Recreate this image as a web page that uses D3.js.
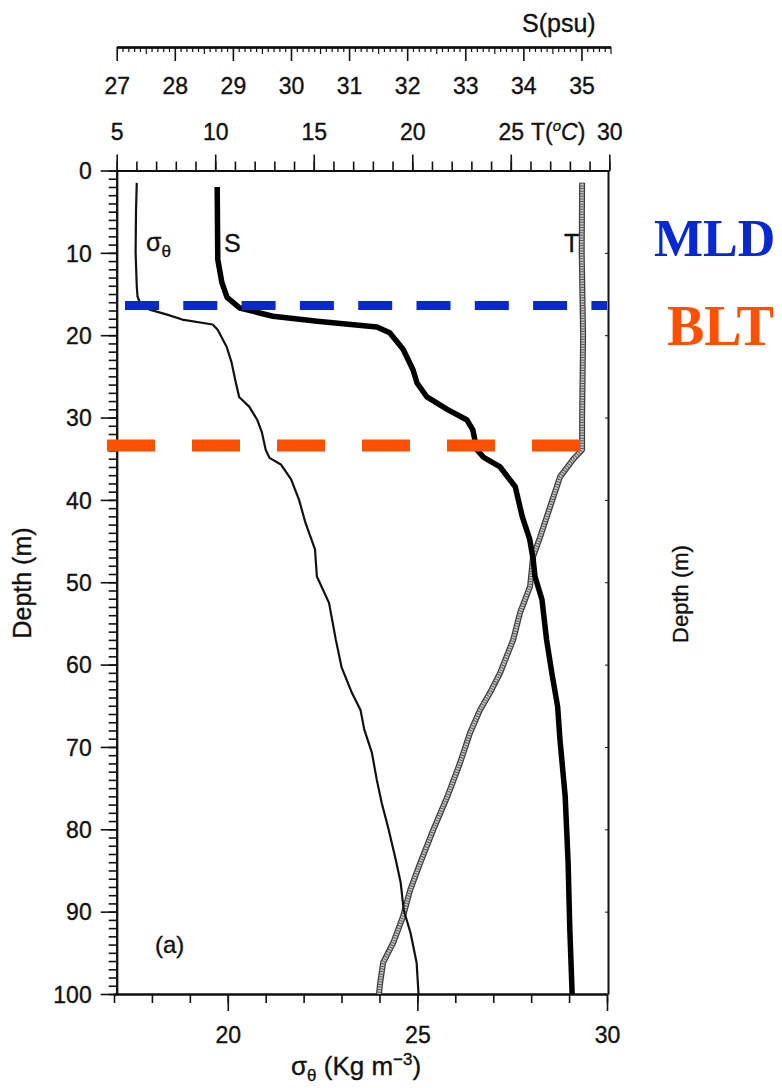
<!DOCTYPE html>
<html>
<head>
<meta charset="utf-8">
<script src="https://cdn.jsdelivr.net/npm/d3@7/dist/d3.min.js"></script>
<style>
  html, body { margin: 0; padding: 0; background: #fff; }
  svg { display: block; }
  text.lbl, .tick text { font-family: "Liberation Sans", Arial, Helvetica, sans-serif; fill: #111; stroke: #111; stroke-width: 0.35px; }
  text.mark { font-family: "Liberation Serif", "Times New Roman", serif; font-weight: bold; }
</style>
</head>
<body>
<svg id="chart" width="782" height="1088"></svg>
<script>
// Profile data: depth (m) and value for each variable
const sigmaDepth = [1.5, 5, 10, 14, 15.3, 16, 16.9, 17.5, 18.1, 18.7, 19.3, 21.4, 23.3, 25.5, 27.5, 28.7, 30.3, 31.8, 33.9, 34.9, 35.7, 37.5, 40, 42.8, 46, 49.3, 52.5, 57, 60.3, 63.4, 65.5, 67.9, 70.7, 74, 76.8, 80, 83.7, 86.5, 89.8, 92.6, 96.2, 100];
const sigmaValue = [17.6, 17.58, 17.57, 17.6, 17.62, 17.68, 17.94, 18.4, 18.8, 19.6, 19.73, 19.97, 20.1, 20.2, 20.3, 20.57, 20.78, 20.9, 21.0, 21.1, 21.4, 21.67, 21.88, 22.05, 22.3, 22.35, 22.67, 22.85, 23.0, 23.27, 23.5, 23.6, 23.8, 23.93, 24.06, 24.24, 24.43, 24.56, 24.64, 24.82, 24.98, 25.03];

const salDepth = [2, 10.8, 13.6, 15.4, 16.7, 17.7, 18.3, 19.0, 19.7, 21.7, 24.2, 25.8, 27.5, 29.0, 30.3, 31.5, 33.9, 34.8, 36, 38.4, 42, 44.8, 47.3, 49.3, 52.1, 57, 61, 65.1, 69.1, 76, 84, 92.2, 100];
const salValue = [28.73, 28.74, 28.81, 28.9, 29.12, 29.69, 30.45, 31.48, 31.7, 31.93, 32.1, 32.17, 32.34, 32.69, 33.03, 33.13, 33.2, 33.31, 33.6, 33.86, 33.98, 34.11, 34.17, 34.2, 34.32, 34.4, 34.49, 34.59, 34.63, 34.72, 34.77, 34.8, 34.84];

const tempDepth = [1.5, 10, 20, 30, 33.9, 35.1, 37.2, 40.8, 44.5, 46.9, 50.5, 53.7, 57, 61, 63.4, 65.5, 68.3, 71.9, 76.1, 80.1, 84.1, 87.4, 90.6, 93.8, 96.2, 98.7, 100];
const tempValue = [28.62, 28.6, 28.67, 28.62, 28.62, 28.16, 27.5, 27.0, 26.49, 26.13, 25.98, 25.47, 25.12, 24.46, 23.95, 23.44, 22.93, 22.43, 21.77, 21.06, 20.4, 19.89, 19.53, 19.03, 18.52, 18.37, 18.31];

// Layer depths marked on the profile
const mldDepth = 16.4;
const bltDepth = 33.4;

// Axis ticks
const depthTicks = d3.range(0, 101, 10);
const sigmaTicks = [20, 25, 30];
const salTicks = [27, 28, 29, 30, 31, 32, 33, 34, 35];
const tempTicks = [5, 10, 15, 20, 25, 30];

(function draw() {
  const svg = d3.select("#chart");

  const plotLeft = 116.7, plotRight = 608, plotTop = 170.5, plotBottom = 994;

  const y = d3.scaleLinear().domain([0, 100]).range([plotTop, plotBottom]);
  const xSig = d3.scaleLinear().domain([17, 30]).range([114, 607]);
  const xSal = d3.scaleLinear().domain([27, 35.5]).range([116.7, 610.5]);
  const xTem = d3.scaleLinear().domain([5, 30]).range([116.7, 609.3]);

  const FS = 23;

  function styleAxis(g, width) {
    g.selectAll("path.domain").attr("stroke", "#111").attr("stroke-width", width);
    g.selectAll(".tick line").attr("stroke", "#111").attr("stroke-width", 1.6);
    g.selectAll(".tick text").attr("font-size", FS);
  }

  // Depth axis (left)
  const yMinor = svg.append("g").attr("transform", `translate(${plotLeft},0)`)
    .call(d3.axisLeft(y).tickValues(d3.range(0, 101, 1)).tickSize(8).tickSizeOuter(0).tickFormat(""));
  styleAxis(yMinor, 2);
  const yMajor = svg.append("g").attr("transform", `translate(${plotLeft},0)`)
    .call(d3.axisLeft(y).tickValues(depthTicks).tickSize(16).tickSizeOuter(0).tickPadding(9).tickFormat(d3.format("d")));
  styleAxis(yMajor, 2);
  yMajor.selectAll(".tick text").attr("dy", "0.36em");

  // Right frame line with small ticks
  const yRight = svg.append("g").attr("transform", `translate(${plotRight},0)`)
    .call(d3.axisRight(y).tickValues(depthTicks).tickSize(-3).tickSizeOuter(0).tickFormat(""));
  styleAxis(yRight, 2);
  yRight.selectAll(".tick line").attr("stroke-width", 1);

  // Density axis (bottom)
  const sMinor = svg.append("g").attr("transform", `translate(0,${plotBottom})`)
    .call(d3.axisBottom(xSig).tickValues(d3.range(17, 31, 1)).tickSize(9).tickSizeOuter(0).tickFormat(""));
  styleAxis(sMinor, 2);
  const sMajor = svg.append("g").attr("transform", `translate(0,${plotBottom})`)
    .call(d3.axisBottom(xSig).tickValues(sigmaTicks).tickSize(17).tickSizeOuter(0).tickPadding(16).tickFormat(d3.format("d")));
  styleAxis(sMajor, 2);

  // Temperature axis (top frame)
  const tMinor = svg.append("g").attr("transform", `translate(0,${plotTop})`)
    .call(d3.axisTop(xTem).tickValues(d3.range(5, 31, 1)).tickSize(9).tickSizeOuter(0).tickFormat(""));
  styleAxis(tMinor, 2);
  const tMajor = svg.append("g").attr("transform", `translate(0,${plotTop})`)
    .call(d3.axisTop(xTem).tickValues(tempTicks).tickSize(16).tickSizeOuter(0).tickPadding(15).tickFormat(d3.format("d")));
  styleAxis(tMajor, 2);

  // Salinity axis (separate ruler above)
  const salY = 47;
  const tenths = d3.range(270, 356, 1).filter(v => v % 5 !== 0).map(v => v / 10);
  const pMinor = svg.append("g").attr("transform", `translate(0,${salY})`)
    .call(d3.axisBottom(xSal).tickValues(tenths).tickSize(5).tickSizeOuter(0).tickFormat(""));
  styleAxis(pMinor, 2);
  pMinor.selectAll(".tick line").attr("stroke-width", 1.2);
  const pHalf = svg.append("g").attr("transform", `translate(0,${salY})`)
    .call(d3.axisBottom(xSal).tickValues(d3.range(27.5, 35.6, 1)).tickSize(7).tickSizeOuter(0).tickFormat(""));
  styleAxis(pHalf, 2);
  pHalf.selectAll(".tick line").attr("stroke-width", 1.2);
  const pMajor = svg.append("g").attr("transform", `translate(0,${salY})`)
    .call(d3.axisBottom(xSal).tickValues(salTicks).tickSize(14).tickSizeOuter(0).tickPadding(17).tickFormat(d3.format("d")));
  styleAxis(pMajor, 2);

  const label = (x, yy, size, txt) => svg.append("text").attr("class", "lbl")
    .attr("x", x).attr("y", yy).attr("font-size", size).text(txt);

  // Axis titles
  label(522, 32, 25, "S(psu)");

  const tTitle = label(531, 140, FS, null);
  tTitle.append("tspan").text("T(");
  tTitle.append("tspan").attr("dy", -9).attr("font-size", 15).attr("font-style", "italic").text("o");
  tTitle.append("tspan").attr("dy", 9).attr("font-style", "italic").text("C");
  tTitle.append("tspan").text(")");

  const sigTitle = label(291, 1075, 26, null);
  sigTitle.append("tspan").text("σ");
  sigTitle.append("tspan").attr("dy", 6).attr("font-size", 17).text("θ");
  sigTitle.append("tspan").attr("dy", -6).text(" (Kg m");
  sigTitle.append("tspan").attr("dy", -10).attr("font-size", 17).text("−3");
  sigTitle.append("tspan").attr("dy", 10).text(")");

  label(0, 0, 25, "Depth (m)")
    .attr("transform", `translate(31,${583}) rotate(-90)`).attr("text-anchor", "middle");
  label(0, 0, 22, "Depth (m)")
    .attr("transform", `translate(688,${594}) rotate(-90)`).attr("text-anchor", "middle");

  // Profiles
  const line = (xs, depths, vals) => d3.line()
    .x((d, i) => xs(vals[i]))
    .y((d, i) => y(depths[i]))
    .curve(d3.curveLinear)(depths);

  const g = svg.append("g");

  // Temperature: grey hatched band
  const tPath = line(xTem, tempDepth, tempValue);
  g.append("path").attr("d", tPath).attr("fill", "none").attr("stroke", "#3c3c3c").attr("stroke-width", 6).attr("stroke-linejoin", "round");
  g.append("path").attr("d", tPath).attr("fill", "none").attr("stroke", "#c8c8c8").attr("stroke-width", 3.4).attr("stroke-linejoin", "round");
  g.append("path").attr("d", tPath).attr("fill", "none").attr("stroke", "#555").attr("stroke-width", 3.4).attr("stroke-dasharray", "1,1.6");

  // Density: thin black line
  g.append("path").attr("d", line(xSig, sigmaDepth, sigmaValue))
    .attr("fill", "none").attr("stroke", "#111").attr("stroke-width", 2.2).attr("stroke-linejoin", "round");

  // Salinity: thick black line
  g.append("path").attr("d", line(xSal, salDepth, salValue))
    .attr("fill", "none").attr("stroke", "#000").attr("stroke-width", 5.5).attr("stroke-linejoin", "round");

  // Curve labels
  const sigLbl = label(146, 251, 25, null);
  sigLbl.append("tspan").text("σ");
  sigLbl.append("tspan").attr("dy", 6).attr("font-size", 17).text("θ");
  label(224, 252, 25, "S");
  label(564, 252, 25, "T");
  label(155, 953, 24, "(a)");

  // Mixed layer depth and barrier layer markers
  const blue = "#0828d2", orange = "#ff5000";
  svg.append("line")
    .attr("x1", 125).attr("x2", xSig(30)).attr("y1", y(mldDepth)).attr("y2", y(mldDepth))
    .attr("stroke", blue).attr("stroke-width", 9).attr("stroke-dasharray", "34,24.3");
  svg.append("line")
    .attr("x1", 107).attr("x2", 582).attr("y1", y(bltDepth)).attr("y2", y(bltDepth))
    .attr("stroke", orange).attr("stroke-width", 12).attr("stroke-dasharray", "48,37");

  svg.append("text").attr("class", "mark").attr("x", 654).attr("y", 256)
    .attr("font-size", 52).style("fill", blue).text("MLD");
  svg.append("text").attr("class", "mark").attr("x", 667).attr("y", 345)
    .attr("font-size", 56).style("fill", orange).text("BLT");
})();
</script>
</body>
</html>
